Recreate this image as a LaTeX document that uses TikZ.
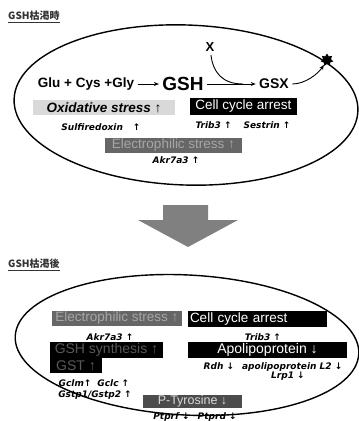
\documentclass[tikz,border=0pt]{standalone}
\usepackage{fontspec}
\setmainfont{Liberation Sans}
\newfontfamily\labelfont{DejaVu Sans}
\newfontfamily\jpfont{Noto Sans CJK JP}
\usetikzlibrary{shapes.geometric, arrows.meta}

\begin{document}
\begin{tikzpicture}[x=1pt, y=-1pt,
  cell/.style = {line width=1.4pt},
  blackbox/.style = {fill=black, text=white, inner sep=0pt, font=\fontsize{13.5}{14}\selectfont},
  greybox/.style = {fill=black!60, text=black!35, inner sep=0pt, font=\fontsize{13.5}{14}\selectfont},
  shadebox/.style = {fill=black, text=black!65, inner sep=0pt, font=\fontsize{14}{15}\selectfont},
  gene/.style = {inner sep=0pt, font=\labelfont\bfseries\itshape\fontsize{9}{10}\selectfont},
  title/.style = {anchor=west, inner sep=0pt, text=black!80, font=\jpfont\bfseries\fontsize{10}{12}\selectfont},
  flow/.style = {line width=0.9pt, -{Stealth[length=5pt, width=4pt]}},
]
  \useasboundingbox (0,0) rectangle (359,421);
  % before: GSH depletion
  \node[title] (head1) at (8,17) {\underline{GSH枯渇時}};
  \draw[cell, rotate around={-2:(186,105)}] (186,105) ellipse (172 and 80);
  \node[font=\bfseries\fontsize{13.5}{14}\selectfont] (pre) at (86,84) {Glu + Cys +Gly};
  \node[font=\bfseries\fontsize{19}{20}\selectfont] (gsh) at (183,84) {GSH};
  \node[font=\bfseries\fontsize{14}{15}\selectfont] (gsx) at (274,84) {GSX};
  \node[font=\bfseries\fontsize{13}{14}\selectfont] (x) at (210,47) {X};
  \node[star, star points=7, star point ratio=1.6, fill=black, minimum size=13pt, inner sep=0pt] (pump) at (327,60) {};
  \coordinate (join) at (243,84);
  \draw[flow] (pre) -- (gsh);
  \draw[flow] (gsh) -- (gsx);
  \draw[line width=0.9pt] (x) .. controls (213,72) and (222,84) .. (join);
  \draw[flow] (gsx) .. controls (305,84) and (318,74) .. (pump);
  \node[fill=black!15, inner sep=0pt, minimum width=142pt, minimum height=15pt, font=\bfseries\itshape\fontsize{13.5}{14}\selectfont] (oxid) at (104,107.5) {Oxidative stress ↑};
  \node[gene] (srx) at (101,127) {Sulfiredoxin\hspace{10pt}↑};
  \node[blackbox, minimum width=107pt, minimum height=17pt] (arrest1) at (243.5,106.5) {Cell cycle arrest};
  \node[gene] (trib1) at (243,125) {Trib3 ↑\hspace{12pt}Sestrin ↑};
  \node[greybox, minimum width=137pt, minimum height=15pt] (elec1) at (173.5,145.5) {Electrophilic stress ↑};
  \node[gene] (akr1) at (176,160) {Akr7a3 ↑};
  % big arrow
  \fill[black!50] (163,205) -- (208,205) -- (208,220) -- (238,220) -- (188,247) -- (138,220) -- (163,220) -- cycle;
  % after: GSH depletion
  \node[title] (head2) at (8,265) {\underline{GSH枯渇後}};
  \draw[cell, rotate around={-3:(187,345)}] (187,345) ellipse (172 and 70);
  \node[greybox, minimum width=130pt, minimum height=15pt] (elec2) at (117,318.5) {Electrophilic stress ↑};
  \node[blackbox, inner xsep=2pt, text width=135pt, align=left, minimum height=16pt] (arrest2) at (257.5,319) {Cell cycle arrest};
  \node[gene] (akr2) at (110,337) {Akr7a3 ↑};
  \node[gene] (trib2) at (263,337) {Trib3 ↑};
  \node[shadebox, minimum width=113pt, minimum height=16pt] (gshsyn) at (106.5,350) {GSH synthesis ↑};
  \node[shadebox, minimum width=52pt, minimum height=15pt] (gst) at (76,365.5) {GST ↑};
  \node[blackbox, minimum width=159pt, minimum height=16pt, font=\fontsize{14}{15}\selectfont] (apo) at (267.5,350) {Apolipoprotein ↓};
  \node[gene] (rdh) at (273,367) {Rdh ↓\hspace{8pt}apolipoprotein L2 ↓};
  \node[gene] (lrp) at (288,376) {Lrp1 ↓};
  \node[gene] (gcl) at (94,383) {Gclm↑\hspace{6pt}Gclc ↑};
  \node[gene] (gstp) at (95,395) {Gstp1/Gstp2 ↑};
  \node[fill=black!70, text=black!15, inner sep=0pt, minimum width=99pt, minimum height=13pt, font=\fontsize{12.5}{13}\selectfont] (ptyr) at (192.5,401.5) {P-Tyrosine ↓};
  \node[gene] (ptp) at (195,417) {Ptprf ↓\hspace{8pt}Ptprd ↓};
\end{tikzpicture}
\end{document}
